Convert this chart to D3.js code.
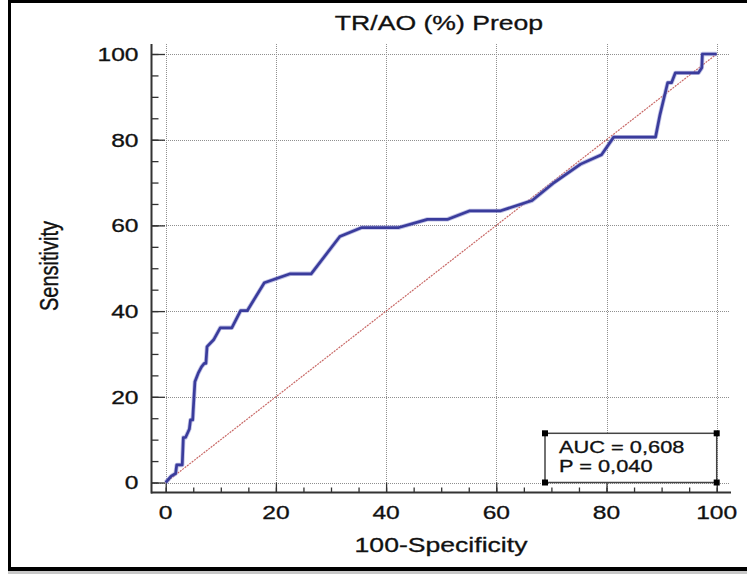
<!DOCTYPE html>
<html>
<head>
<meta charset="utf-8">
<script src="https://cdn.jsdelivr.net/npm/d3@7"></script>
<style>
  html, body { margin: 0; padding: 0; background: #fff; }
  svg { display: block; }
  text { font-family: "Liberation Sans", Arial, sans-serif; fill: #111; stroke: #111; stroke-width: 0.3px; }
</style>
</head>
<body>
<svg id="chart" width="747" height="574"></svg>
<script>
// ROC curve points: 100-Specificity (x) and Sensitivity (y)
const fpr = [0, 1.0, 1.8, 2.0, 3.0, 3.2, 3.6, 4.3, 4.5, 4.9, 5.0, 5.3, 5.9, 6.5, 7.0, 7.3, 7.5, 8.7, 9.9, 12.0,
             13.6, 14.8, 17.9, 22.6, 26.4, 31.6, 35.6, 42.3, 47.5, 51.1, 55.2, 60.8, 66.5, 70.5, 75.3, 79.1,
             81.3, 88.9, 89.7, 91.1, 91.8, 92.5, 96.7, 97.3, 97.4, 100];
const tpr = [0, 1.5, 2.1, 4.1, 4.1, 10.5, 10.5, 12.5, 14.6, 14.6, 17.0, 23.5, 25.5, 27.0, 27.8, 27.8, 31.7, 33.3, 36.1, 36.1,
             40.1, 40.1, 46.6, 48.7, 48.7, 57.4, 59.5, 59.5, 61.4, 61.4, 63.4, 63.4, 65.8, 70.0, 74.3, 76.5,
             80.6, 80.6, 85.8, 93.3, 93.3, 95.6, 95.6, 96.8, 100, 100];
const majorTicks = [0, 20, 40, 60, 80, 100];
const minorTicks = d3.range(0, 101, 5);
const titleText = "TR/AO (%) Preop";
const xLabel = "100-Specificity";
const yLabel = "Sensitivity";
const statLines = ["AUC = 0,608", "P = 0,040"];

const SX = 1.33; // horizontal stretch applied to all lettering
const svg = d3.select("#chart");

const x = d3.scaleLinear().domain([0, 100]).range([165.7, 716.7]);
const y = d3.scaleLinear().domain([0, 100]).range([482.5, 54]);

// outer frame (left, top, bottom)
svg.append("rect").attr("x", 8).attr("y", 0).attr("width", 3).attr("height", 571).attr("fill", "#000");
svg.append("rect").attr("x", 8).attr("y", 0).attr("width", 739).attr("height", 3).attr("fill", "#000");
svg.append("rect").attr("x", 8).attr("y", 567).attr("width", 739).attr("height", 4).attr("fill", "#000");
svg.append("rect").attr("x", 8).attr("y", 571).attr("width", 739).attr("height", 3).attr("fill", "#c8c8c8");

// dotted grid
const grid = svg.append("g").attr("stroke", "#8f8f8f").attr("stroke-width", 1).attr("stroke-dasharray", "1,1");
grid.selectAll("line.h").data(majorTicks).join("line")
  .attr("x1", 152).attr("x2", 730)
  .attr("y1", d => Math.round(y(d)) + 0.5).attr("y2", d => Math.round(y(d)) + 0.5);
grid.selectAll("line.v").data(majorTicks).join("line")
  .attr("y1", 44).attr("y2", 492)
  .attr("x1", d => Math.round(x(d)) + 0.5).attr("x2", d => Math.round(x(d)) + 0.5);

// axes
const axisColor = "#333";
const yAxisMinor = d3.axisLeft(y).tickValues(minorTicks).tickSize(-7).tickSizeOuter(0).tickFormat("");
const yAxisMajor = d3.axisLeft(y).tickValues(majorTicks).tickSize(-13.5).tickSizeOuter(0).tickFormat("");
const xAxisMinor = d3.axisBottom(x).tickValues(minorTicks).tickSize(-5).tickSizeOuter(0).tickFormat("");
const xAxisMajor = d3.axisBottom(x).tickValues(majorTicks).tickSize(-10).tickSizeOuter(0).tickFormat("");

[yAxisMinor, yAxisMajor].forEach(a => {
  const g = svg.append("g").attr("transform", "translate(151.5,0)").call(a);
  g.select(".domain").remove();
  g.selectAll("line").attr("stroke", axisColor).attr("stroke-width", 1.3);
});
[xAxisMinor, xAxisMajor].forEach(a => {
  const g = svg.append("g").attr("transform", "translate(0,492.5)").call(a);
  g.select(".domain").remove();
  g.selectAll("line").attr("stroke", axisColor).attr("stroke-width", 1.3);
});
svg.append("line").attr("x1", 151.5).attr("x2", 151.5).attr("y1", 44).attr("y2", 493.5)
  .attr("stroke", axisColor).attr("stroke-width", 2);
svg.append("line").attr("x1", 151).attr("x2", 731).attr("y1", 492.5).attr("y2", 492.5)
  .attr("stroke", axisColor).attr("stroke-width", 2);

// tick labels
svg.selectAll("text.ytick").data(majorTicks).join("text")
  .attr("class", "ytick")
  .attr("text-anchor", "end")
  .attr("font-size", 18.5)
  .attr("transform", d => `translate(138.5,${y(d) + 6.8}) scale(${SX},1)`)
  .text(d => d);
svg.selectAll("text.xtick").data(majorTicks).join("text")
  .attr("class", "xtick")
  .attr("text-anchor", "middle")
  .attr("font-size", 18.5)
  .attr("transform", d => `translate(${x(d)},519) scale(${SX},1)`)
  .text(d => d);

// titles
svg.append("text").attr("text-anchor", "middle").attr("font-size", 20)
  .attr("transform", `translate(439,30) scale(${SX},1)`).text(titleText);
svg.append("text").attr("text-anchor", "middle").attr("font-size", 20)
  .attr("transform", `translate(441,552) scale(${SX},1)`).text(xLabel);
svg.append("text").attr("text-anchor", "middle").attr("font-size", 20)
  .attr("transform", `translate(57.5,266) rotate(-90) scale(1,${SX})`).text(yLabel);

// reference diagonal
svg.append("line")
  .attr("x1", x(0)).attr("y1", y(0)).attr("x2", x(100)).attr("y2", y(100))
  .attr("stroke", "#c0504d").attr("stroke-width", 1.2).attr("stroke-dasharray", "2,1")
  .attr("opacity", 0.85);

// ROC curve
const pts = fpr.map((f, i) => [f, tpr[i]]);
const line = d3.line().x(d => x(d[0])).y(d => y(d[1]));
svg.append("path").datum(pts)
  .attr("d", line).attr("fill", "none")
  .attr("stroke", "#8c8ed0").attr("stroke-width", 4.4).attr("stroke-linejoin", "round").attr("opacity", 0.55);
svg.append("path").datum(pts)
  .attr("d", line).attr("fill", "none")
  .attr("stroke", "#3a3c9c").attr("stroke-width", 2.7).attr("stroke-linejoin", "round");

// statistics box anchored at the lower-right corner of the plot
const bx0 = 545, bx1 = x(100), by0 = 433.3, by1 = y(0);
svg.append("rect").attr("x", bx0).attr("y", by0).attr("width", bx1 - bx0).attr("height", by1 - by0)
  .attr("fill", "#fff").attr("stroke", "#444").attr("stroke-width", 1.5);
[[bx0, by0], [bx1, by0], [bx0, by1], [bx1, by1]].forEach(([cx, cy]) => {
  svg.append("rect").attr("x", cx - 3).attr("y", cy - 3).attr("width", 6).attr("height", 6).attr("fill", "#000");
});
svg.selectAll("text.stat").data(statLines).join("text")
  .attr("class", "stat")
  .attr("font-size", 16.4)
  .attr("transform", (d, i) => `translate(559,${453.3 + i * 19}) scale(${SX},1)`)
  .text(d => d);
</script>
</body>
</html>
